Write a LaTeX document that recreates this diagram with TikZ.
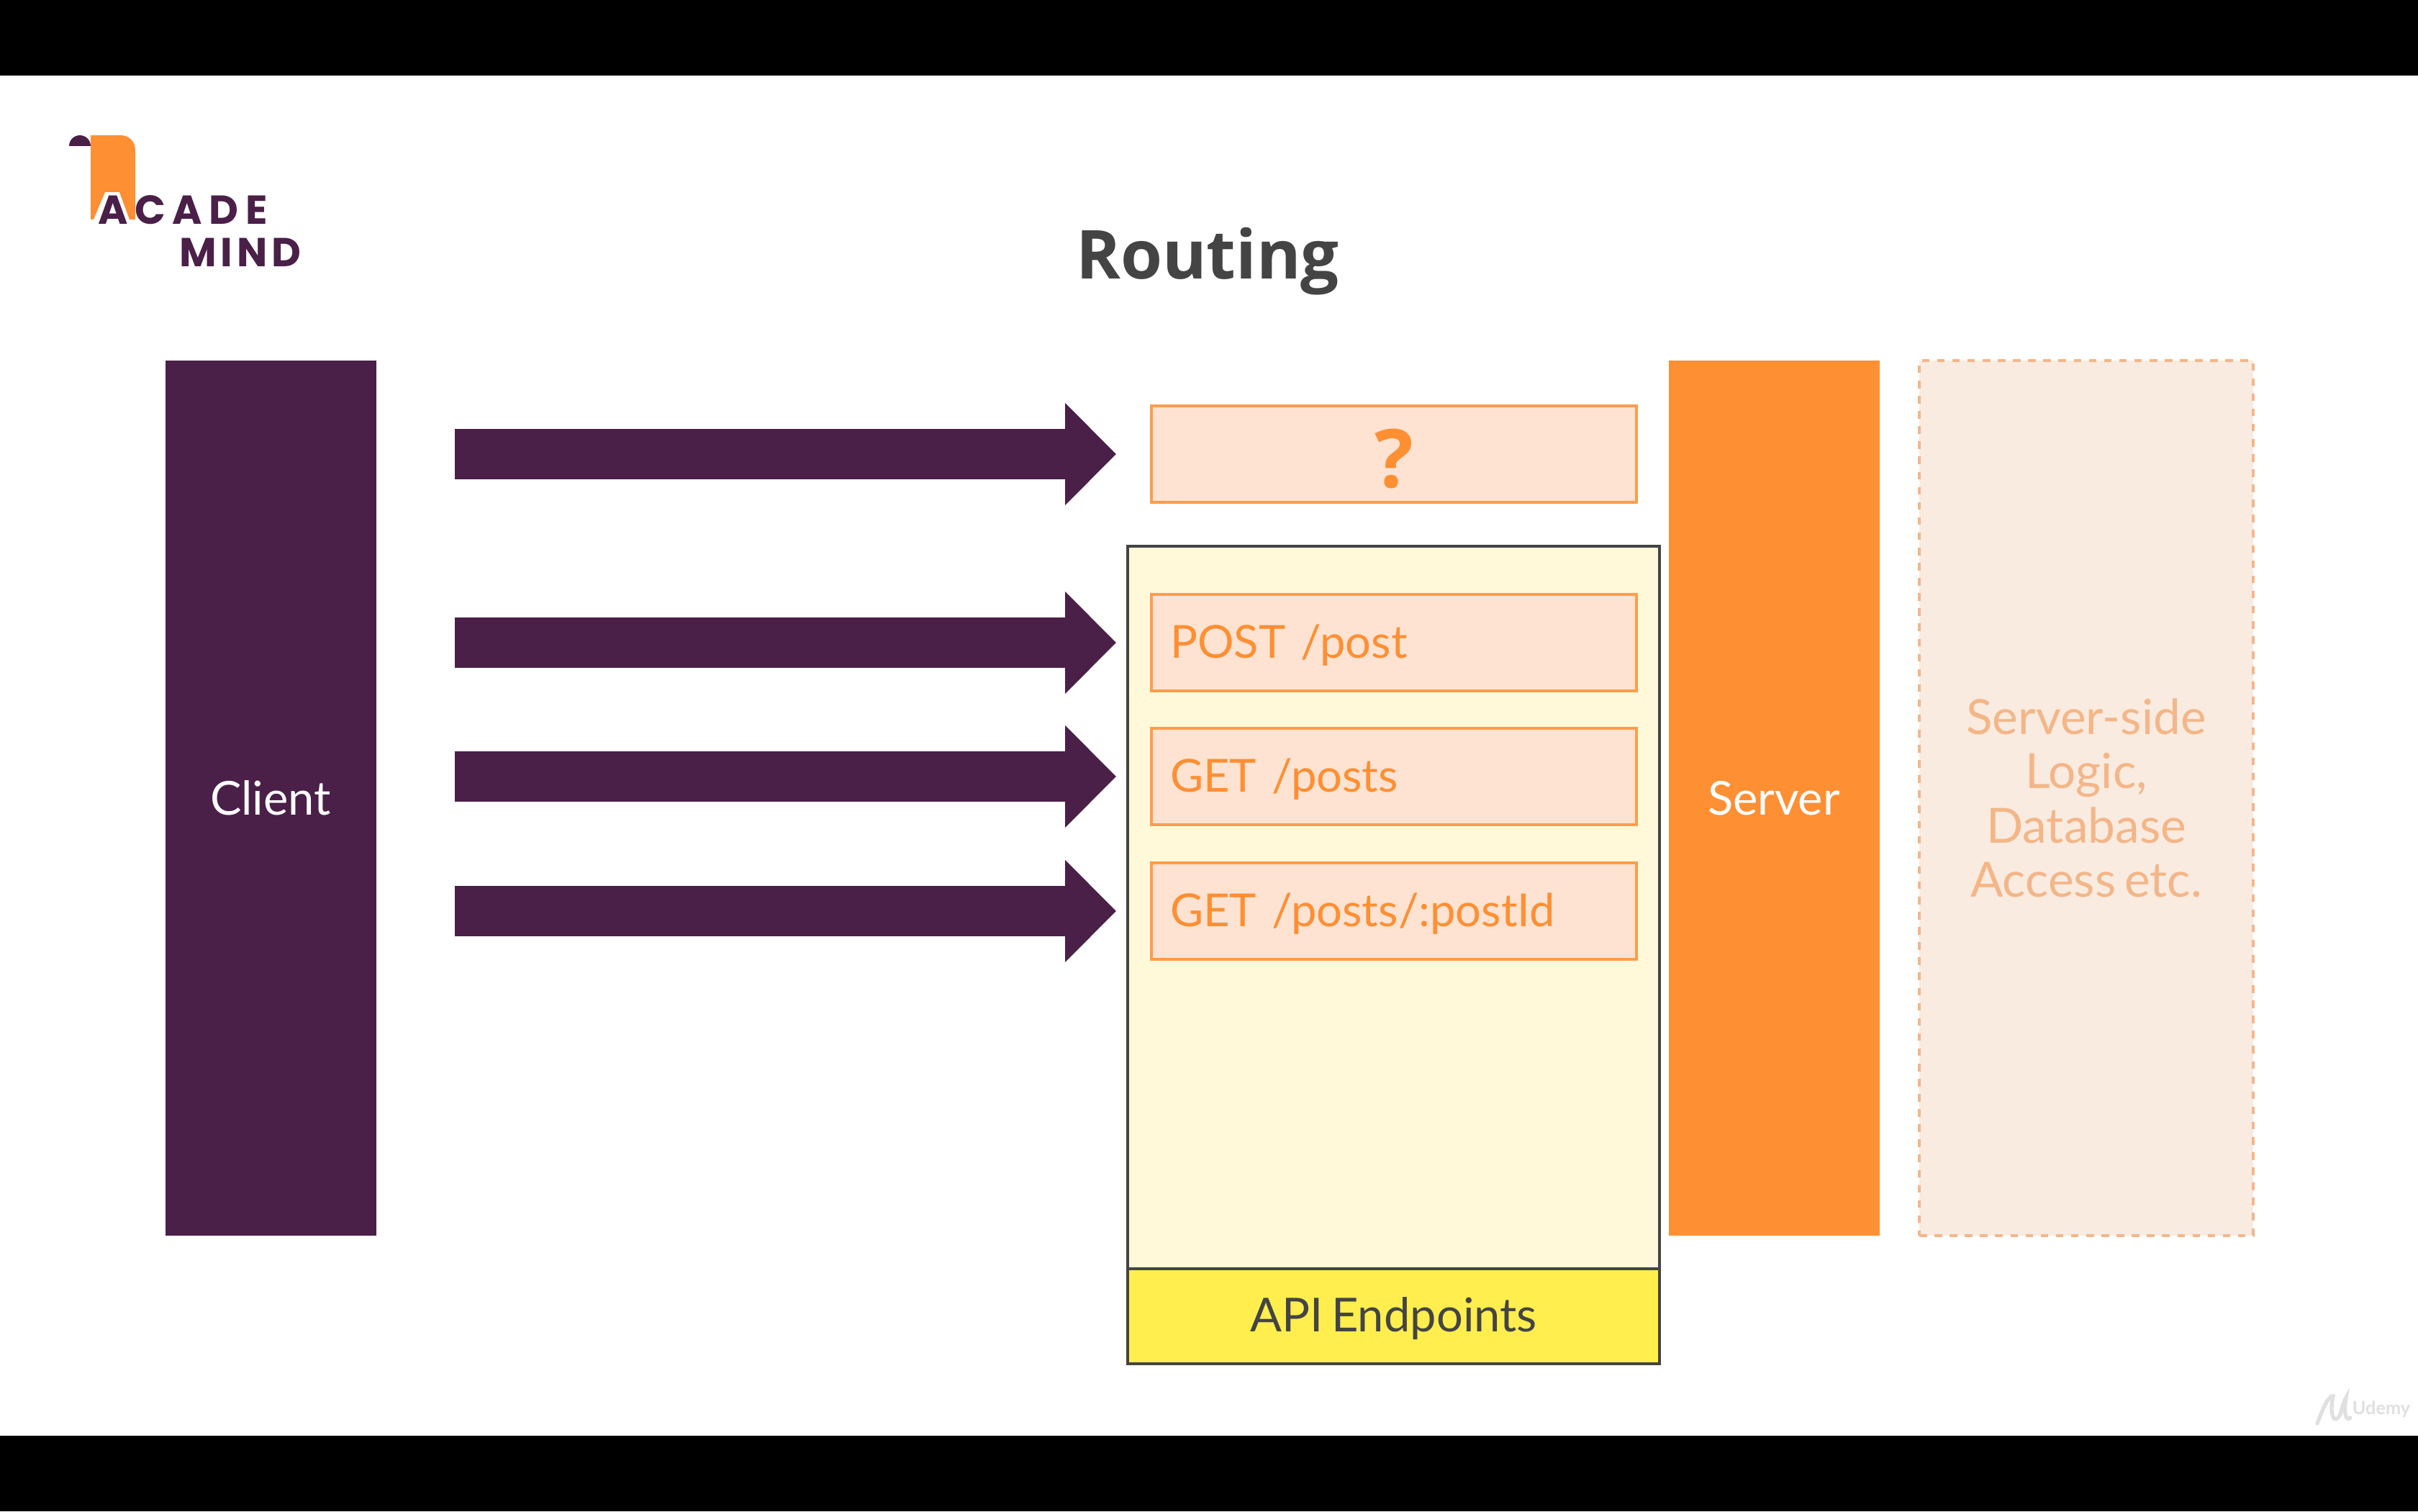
\documentclass[tikz,border=0pt]{standalone}
\usepackage{fontspec}
\setmainfont[WordSpace=0.7]{Lato}
\newfontfamily\titlefont{Open Sans}
\newfontfamily\logofont{Poppins}
\usepackage{tikz}
\usetikzlibrary{arrows.meta,positioning}
\definecolor{colPurple}{RGB}{74,31,72}
\definecolor{colOrange}{RGB}{255,143,51}
\definecolor{colPeach}{RGB}{254,227,210}
\definecolor{colCream}{RGB}{255,249,218}
\definecolor{colYellow}{RGB}{255,238,78}
\definecolor{colSand}{RGB}{249,235,224}
\definecolor{colFaint}{RGB}{244,182,136}
\definecolor{colGrey}{RGB}{68,68,68}

\begin{document}
\begin{tikzpicture}[
  lane/.style={
    minimum width=2.93cm, minimum height=12.16cm,
    inner sep=0pt, outer sep=0pt, text=white,
    font=\fontsize{18.5}{21.5}\selectfont
  },
  route/.style={
    draw=colOrange!85!colPeach, line width=0.9pt, fill=colPeach,
    minimum height=1.34cm, text width=6.22cm, inner xsep=0.26cm,
    inner ysep=0pt, outer sep=0pt, text=colOrange, align=left,
    text height=0.5cm, text depth=0.08cm,
    font=\fontsize{18}{21.5}\selectfont
  },
  panel/.style={
    draw=colGrey, line width=0.9pt, inner sep=0pt, outer sep=0pt,
    minimum width=7.39cm
  },
  flow/.style={
    -{Triangle[length=0.71cm,width=1.38cm]}, line width=0.7cm,
    colPurple, shorten <=1.09cm, shorten >=0.49cm
  },
  logo/.style={
    font=\logofont\bfseries\fontsize{16}{16}\selectfont,
    text=colPurple, inner sep=0pt
  }
]
\useasboundingbox (0,0) rectangle (33.6,21);
\fill[white] (0,0) rectangle (33.6,21);
% Video bars
\fill[black] (0,19.95) rectangle (33.6,21);
\fill[black] (0,0) rectangle (33.6,1.05);

% Logo
\fill[colOrange] (1.26,19.12) -- (1.68,19.12)
  arc[start angle=90,end angle=0,radius=0.2]
  -- (1.88,17.95) -- (1.80,17.95) -- (1.66,18.33) -- (1.46,18.33) -- (1.30,17.95)
  -- (1.26,17.95) -- cycle;
\fill[colPurple] (0.96,18.97) arc[start angle=180,end angle=0,radius=0.15] -- cycle;
\node[logo,anchor=west] (acade) at (1.36,18.08) {A\kern2.7pt C\kern2.7pt A\kern2.7pt D\kern2.7pt E};
\node[logo,anchor=west] (mind) at (2.49,17.49) {M\kern1.6pt I\kern1.6pt N\kern1.6pt D};

% Title
\node[font=\titlefont\bfseries\fontsize{26.7}{32}\selectfont,text=colGrey] (title) at (16.78,17.37) {Routing};

% Lanes
\node[lane,fill=colPurple] (client) at (3.76,9.91) {Client};
\node[lane,fill=colOrange] (server) at (24.65,9.91) {Server};
\node[lane,minimum width=4.64cm,fill=colSand,draw=colFaint,dashed,line width=0.9pt,
  text=colFaint,align=center,font=\fontsize{19.2}{21.5}\selectfont] (logic) at (28.99,9.91)
  {Server-side\\Logic,\\Database\\Access etc.};

% API panel
\node[panel,fill=colCream,minimum height=10.04cm] (api) at (19.365,8.39) {};
\node[panel,fill=colYellow,minimum height=1.32cm,text=colGrey,
  text height=0.5cm,text depth=0.08cm,
  font=\fontsize{18.5}{21.5}\selectfont] (apilabel) at (19.365,2.71) {API Endpoints};

% Routes
\node[route,align=center,text height=0.94cm,text depth=0pt,
  font=\titlefont\bfseries\fontsize{32}{38}\selectfont] (unknown) at (19.37,14.69) {?};
\node[route] (post) at (19.37,12.07) {POST /post};
\node[route] (posts) at (19.37,10.21) {GET /posts};
\node[route] (postid) at (19.37,8.34) {GET /posts/:postId};

% Arrows
\draw[flow] (client.east |- unknown.west) -- (unknown.west);
\draw[flow] (client.east |- post.west) -- (post.west);
\draw[flow] (client.east |- posts.west) -- (posts.west);
\draw[flow] (client.east |- postid.west) -- (postid.west);

% Watermark
\draw[black!12,line width=1.5pt,line cap=round] (32.2,1.22) .. controls (32.3,1.5) and (32.38,1.62) .. (32.42,1.6)
  .. controls (32.36,1.3) and (32.45,1.2) .. (32.52,1.35)
  .. controls (32.56,1.5) and (32.58,1.55) .. (32.6,1.58)
  .. controls (32.56,1.35) and (32.6,1.25) .. (32.66,1.3);
\node[text=black!12,font=\bfseries\fontsize{7.2}{8}\selectfont,inner sep=0pt] (udemy) at (33.09,1.42) {Udemy};
\end{tikzpicture}
\end{document}
